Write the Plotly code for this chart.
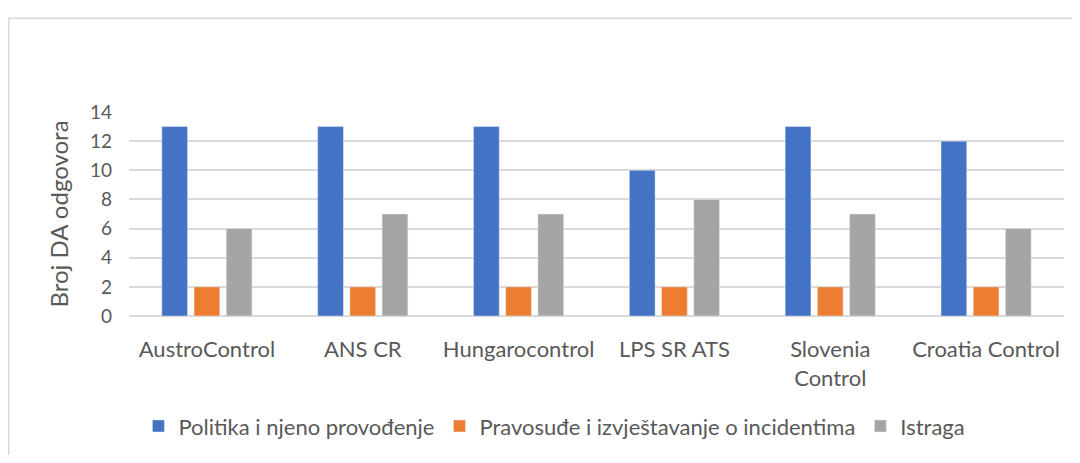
import plotly.graph_objects as go

categories = ["AustroControl", "ANS CR", "Hungarocontrol", "LPS SR ATS", "Slovenia<br>Control", "Croatia Control"]
politika = [13, 13, 13, 10, 13, 12]
pravosude = [2, 2, 2, 2, 2, 2]
istraga = [6, 7, 7, 8, 7, 6]
y_ticks = [0, 2, 4, 6, 8, 10, 12, 14]

font_family = "Lato, Open Sans, sans-serif"
text_color = "#595959"

fig = go.Figure()

fig.add_trace(go.Bar(x=categories, y=politika, name="Politika i njeno provođenje", marker_color="#4472C4"))
fig.add_trace(go.Bar(x=categories, y=pravosude, name="Pravosuđe i izvještavanje o incidentima", marker_color="#ED7D31"))
fig.add_trace(go.Bar(x=categories, y=istraga, name="Istraga", marker_color="#A5A5A5"))

# outer chart border (runs past right/bottom edge like the source)
fig.add_shape(type="rect", xref="paper", yref="paper",
              x0=-0.1286, x1=1.03, y0=-0.75, y1=1.46,
              line=dict(color="#D9D9D9", width=1.5), fillcolor="rgba(0,0,0,0)", layer="below")

# page body has an 8px margin, so the figure is a bit smaller than the window
fig.update_layout(
    width=1064, height=447,
    margin=dict(l=121, r=8, t=104, b=133),
    paper_bgcolor="white", plot_bgcolor="white",
    barmode="group", bargap=0.38, bargroupgap=0.2,
    font=dict(family=font_family, size=19, color=text_color),
    showlegend=True,
    legend=dict(orientation="h", x=0.455, xanchor="center", y=-0.54, yanchor="middle",
                font=dict(size=22, color=text_color), itemwidth=30, traceorder="normal"),
    xaxis=dict(showgrid=False, showline=False, ticks="", tickfont=dict(size=22, color=text_color),
               ticklabelstandoff=18),
    yaxis=dict(range=[0, 14], tickvals=y_ticks, showgrid=True, gridcolor="#D9D9D9", gridwidth=1.5,
               zeroline=True, zerolinecolor="#D9D9D9", zerolinewidth=1.5, showline=False,
               tickfont=dict(size=19, color=text_color), ticklabelstandoff=16,
               title=dict(text="Broj DA odgovora", font=dict(size=24, color=text_color), standoff=14)),
)

fig.write_html("out.html")
